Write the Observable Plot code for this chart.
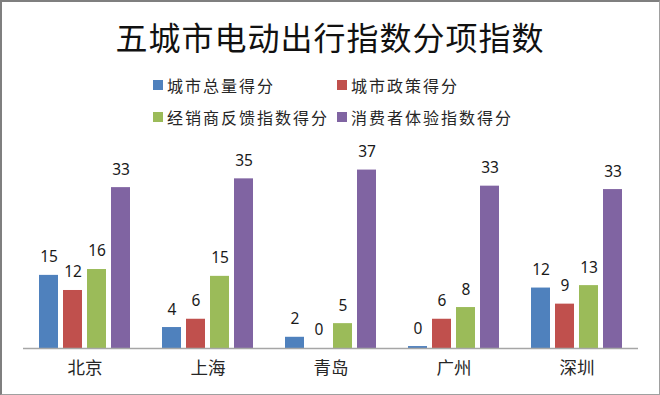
<!DOCTYPE html>
<html><head><meta charset="utf-8">
<script src="https://cdn.jsdelivr.net/npm/d3@7"></script>
<script src="https://cdn.jsdelivr.net/npm/@observablehq/plot@0.6"></script>
<style>
body{margin:0;background:#fff;}
#wrap{position:relative;width:660px;height:395px;overflow:hidden;background:#fff;font-family:"Noto Sans CJK SC","Noto Sans",sans-serif;color:#111;}
#frame{position:absolute;left:0;top:0;width:657px;height:392px;border-top:2px solid #7f7f7f;border-left:2px solid #7f7f7f;border-right:1px solid #a0a0a0;border-bottom:1px solid #a0a0a0;pointer-events:none;z-index:5;}
#title{position:absolute;left:0;width:660px;top:20px;line-height:1;text-align:center;font-size:32px;letter-spacing:1px;}
#legend{position:absolute;left:153px;top:69px;display:grid;grid-template-columns:184px 184px;grid-auto-rows:32px;}
.item{display:flex;align-items:center;font-size:16px;letter-spacing:2px;color:#262626;white-space:nowrap;}
.sw{width:10px;height:10px;margin-right:4px;flex:none;}
#chart{position:absolute;left:0;top:130px;}
</style></head>
<body>
<div id="wrap">
  <div id="frame"></div>
  <div id="title"></div>
  <div id="legend"></div>
  <div id="chart"></div>
</div>
<script>
const titleText = "五城市电动出行指数分项指数";
const cities = ["北京", "上海", "青岛", "广州", "深圳"];
const seriesNames = ["城市总量得分", "城市政策得分", "经销商反馈指数得分", "消费者体验指数得分"];
const seriesColors = ["#4F81BD", "#C0504D", "#9BBB59", "#8064A2"];
const totalScore    = [15.0, 4.3, 2.3, 0.4, 12.4];
const policyScore   = [11.9, 6.0, 0.0, 6.0, 9.1];
const dealerScore   = [16.2, 14.8, 5.1, 8.4, 12.9];
const consumerScore = [33.0, 34.8, 36.6, 33.3, 32.6];

const seriesValues = [totalScore, policyScore, dealerScore, consumerScore];
const data = [];
cities.forEach((city, i) => {
  seriesNames.forEach((s, j) => data.push({city, series: s, value: seriesValues[j][i]}));
});

document.getElementById("title").textContent = titleText;
const legend = document.getElementById("legend");
seriesNames.forEach((s, j) => {
  const it = document.createElement("div");
  it.className = "item";
  const sw = document.createElement("span");
  sw.className = "sw";
  sw.style.background = seriesColors[j];
  it.appendChild(sw);
  it.appendChild(document.createTextNode(s));
  legend.appendChild(it);
});

const chart = Plot.plot({
  width: 660,
  height: 265,
  marginLeft: 21,
  marginRight: 21,
  marginTop: 23,
  marginBottom: 47,
  style: {fontFamily: '"Noto Sans CJK SC","Noto Sans",sans-serif', color: "#262626", background: "transparent"},
  fx: {domain: cities, padding: 0, label: null},
  x: {domain: seriesNames, paddingInner: 0.21, paddingOuter: 0.6, axis: null},
  y: {domain: [0, 40], axis: null},
  color: {domain: seriesNames, range: seriesColors},
  marks: [
    Plot.barY(data, {fx: "city", x: "series", y: "value", fill: "series"}),
    Plot.ruleY([0], {stroke: "#a6a6a6", strokeWidth: 1.5}),
    Plot.text(data, {fx: "city", x: "series", y: "value", text: d => String(Math.round(d.value)), dy: -18, lineAnchor: "middle", fontSize: 15.5, fontFamily: '"Noto Sans",sans-serif', fill: "#1a1a1a"}),
    Plot.axisFx({anchor: "bottom", tickSize: 0, tickPadding: 13, fontSize: 17.5, label: null})
  ]
});
document.getElementById("chart").appendChild(chart);
</script>
</body></html>
